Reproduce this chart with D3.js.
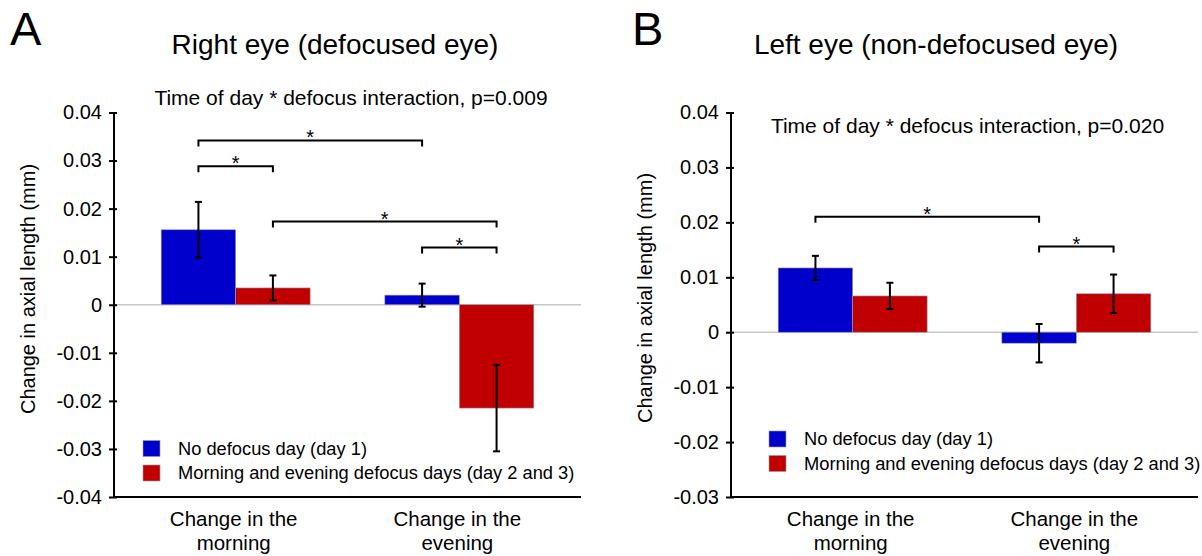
<!DOCTYPE html>
<html>
<head>
<meta charset="utf-8">
<script src="https://cdn.jsdelivr.net/npm/d3@7"></script>
<style>
  body { margin: 0; background: #fff; }
  svg text { font-family: "Liberation Sans", Arial, sans-serif; fill: #000; }
</style>
</head>
<body>
<svg id="chart" width="1202" height="556"></svg>
<script>
// categories and series
var categories = ["morning", "evening"];
var categoryLines = [["Change in the", "morning"], ["Change in the", "evening"]];
var seriesNames = ["No defocus day (day 1)", "Morning and evening defocus days (day 2 and 3)"];
var seriesColors = ["#0000cc", "#c00000"];

// panel A, right eye: [no defocus, defocus] per category
var rightMeans = [[0.0156, 0.0035], [0.0020, -0.0215]];
var rightErrors = [[0.0058, 0.0026], [0.0024, 0.0090]];
var rightTicks = [0.04, 0.03, 0.02, 0.01, 0, -0.01, -0.02, -0.03, -0.04];
// brackets: [category, series] -> [category, series] at a height in mm
var rightBrackets = [
  { from: [0, 0], to: [1, 0], y: 0.0342 },
  { from: [0, 0], to: [0, 1], y: 0.0288 },
  { from: [0, 1], to: [1, 1], y: 0.0173 },
  { from: [1, 0], to: [1, 1], y: 0.0119 }
];

// panel B, left eye
var leftMeans = [[0.0117, 0.0066], [-0.0020, 0.0070]];
var leftErrors = [[0.0022, 0.0024], [0.0035, 0.0035]];
var leftTicks = [0.04, 0.03, 0.02, 0.01, 0, -0.01, -0.02, -0.03];
var leftBrackets = [
  { from: [0, 0], to: [1, 0], y: 0.0210 },
  { from: [1, 0], to: [1, 1], y: 0.0156 }
];

var svg = d3.select("#chart");

function makePanel(p) {
  var g = svg.append("g");
  var top = 112.5, bottom = 497, width = 467;

  var y = d3.scaleLinear()
    .domain([d3.min(p.ticks), d3.max(p.ticks)])
    .range([bottom, top]);

  var x0 = d3.scaleBand()
    .domain(categories)
    .range([p.left, p.left + width])
    .paddingInner(0.334)
    .paddingOuter(0.211);

  var x1 = d3.scaleBand()
    .domain([0, 1])
    .range([0, x0.bandwidth()]);

  function cx(c, s) { return x0(categories[c]) + x1(s) + x1.bandwidth() / 2; }

  // rows of bars
  var rows = [];
  p.means.forEach(function(r, c) {
    r.forEach(function(v, s) { rows.push({ c: c, s: s, v: v, e: p.errors[c][s] }); });
  });

  // panel letter and titles
  g.append("text")
    .attr("x", p.letterX)
    .attr("y", 45)
    .attr("font-size", 47)
    .text(p.letter);

  g.append("text")
    .attr("x", p.titleX)
    .attr("y", 54)
    .attr("font-size", 28)
    .attr("text-anchor", "middle")
    .text(p.title);

  g.append("text")
    .attr("x", p.subX)
    .attr("y", p.subY)
    .attr("font-size", 21)
    .attr("text-anchor", "middle")
    .text(p.subtitle);

  // zero line
  g.append("line")
    .attr("x1", p.left)
    .attr("x2", p.left + width)
    .attr("y1", y(0))
    .attr("y2", y(0))
    .style("stroke", "#c8c8c8")
    .style("stroke-width", "1.5px");

  // bars
  g.selectAll("rect.bar")
    .data(rows)
    .enter()
    .append("rect")
    .attr("class", "bar")
    .attr("x", function(d) { return x0(categories[d.c]) + x1(d.s); })
    .attr("width", x1.bandwidth())
    .attr("y", function(d) { return y(Math.max(0, d.v)); })
    .attr("height", function(d) { return Math.abs(y(d.v) - y(0)); })
    .style("fill", function(d) { return seriesColors[d.s]; })
    .style("stroke", "#9a9aa8")
    .style("stroke-width", "0.6px");

  // error bars
  var err = g.selectAll("g.err")
    .data(rows)
    .enter()
    .append("g")
    .attr("class", "err")
    .style("stroke", "#000")
    .style("stroke-width", "2px");

  err.append("line")
    .attr("x1", function(d) { return cx(d.c, d.s); })
    .attr("x2", function(d) { return cx(d.c, d.s); })
    .attr("y1", function(d) { return y(d.v + d.e); })
    .attr("y2", function(d) { return y(d.v - d.e); });

  [1, -1].forEach(function(sign) {
    err.append("line")
      .attr("x1", function(d) { return cx(d.c, d.s) - 3.5; })
      .attr("x2", function(d) { return cx(d.c, d.s) + 3.5; })
      .attr("y1", function(d) { return y(d.v + sign * d.e); })
      .attr("y2", function(d) { return y(d.v + sign * d.e); });
  });

  // significance brackets
  g.selectAll("path.bracket")
    .data(p.brackets)
    .enter()
    .append("path")
    .attr("class", "bracket")
    .attr("d", function(d) {
      var xa = cx(d.from[0], d.from[1]), xb = cx(d.to[0], d.to[1]), yy = y(d.y);
      return "M" + xa + "," + (yy + 6) + "V" + yy + "H" + xb + "V" + (yy + 6);
    })
    .style("fill", "none")
    .style("stroke", "#000")
    .style("stroke-width", "2px");

  g.selectAll("text.star")
    .data(p.brackets)
    .enter()
    .append("text")
    .attr("class", "star")
    .attr("x", function(d) { return (cx(d.from[0], d.from[1]) + cx(d.to[0], d.to[1])) / 2; })
    .attr("y", function(d) { return y(d.y) + 4; })
    .attr("font-size", 20)
    .attr("text-anchor", "middle")
    .text("*");

  // y axis
  var yAxis = g.append("g")
    .attr("transform", "translate(" + p.left + ",0)")
    .call(d3.axisLeft(y)
      .tickValues(p.ticks)
      .tickSize(5)
      .tickPadding(7)
      .tickFormat(function(d) { return d === 0 ? "0" : d.toFixed(2); }));
  yAxis.select(".domain").remove();
  yAxis.selectAll(".tick line")
    .attr("x1", 3)
    .style("stroke", "#000")
    .style("stroke-width", "2px");
  yAxis.selectAll(".tick text")
    .attr("font-size", 20)
    .style("font-family", "Liberation Sans, Arial, sans-serif");

  g.append("line")
    .attr("x1", p.left)
    .attr("x2", p.left)
    .attr("y1", top)
    .attr("y2", bottom)
    .style("stroke", "#000")
    .style("stroke-width", "2px");

  // bottom line
  g.append("line")
    .attr("x1", p.left)
    .attr("x2", p.left + width)
    .attr("y1", bottom)
    .attr("y2", bottom)
    .style("stroke", "#000")
    .style("stroke-width", "2px");

  // y axis title
  g.append("text")
    .attr("transform", "translate(" + p.ylabX + "," + p.ylabY + ") rotate(-90)")
    .attr("font-size", 20)
    .attr("text-anchor", "middle")
    .text("Change in axial length (mm)");

  // category labels
  categories.forEach(function(c, i) {
    g.append("text")
      .attr("x", x0(c) + x0.bandwidth() / 2)
      .attr("y", 526)
      .attr("font-size", 20.5)
      .attr("text-anchor", "middle")
      .selectAll("tspan")
      .data(categoryLines[i])
      .enter()
      .append("tspan")
      .attr("x", x0(c) + x0.bandwidth() / 2 - 2)
      .attr("dy", function(d, j) { return j === 0 ? 0 : 23.5; })
      .text(function(d) { return d; });
  });

  // legend
  var leg = g.selectAll("g.legend")
    .data(seriesNames)
    .enter()
    .append("g")
    .attr("class", "legend")
    .attr("transform", function(d, i) { return "translate(" + p.legX + "," + (p.legY + i * 24.5) + ")"; });

  leg.append("rect")
    .attr("width", 17)
    .attr("height", 16)
    .style("fill", function(d, i) { return seriesColors[i]; })
    .style("stroke", "#9a9aa8")
    .style("stroke-width", "0.6px");

  leg.append("text")
    .attr("x", 35)
    .attr("y", 14)
    .attr("font-size", 18.3)
    .text(function(d) { return d; });
}

makePanel({
  letter: "A", letterX: 10, title: "Right eye (defocused eye)", titleX: 335,
  subtitle: "Time of day * defocus interaction, p=0.009", subX: 351, subY: 105,
  left: 114, ticks: rightTicks, means: rightMeans, errors: rightErrors, brackets: rightBrackets,
  ylabX: 35, ylabY: 289, legX: 143, legY: 440.5
});

makePanel({
  letter: "B", letterX: 632, title: "Left eye (non-defocused eye)", titleX: 936,
  subtitle: "Time of day * defocus interaction, p=0.020", subX: 967.5, subY: 133,
  left: 731, ticks: leftTicks, means: leftMeans, errors: leftErrors, brackets: leftBrackets,
  ylabX: 652, ylabY: 298, legX: 769, legY: 431
});
</script>
</body>
</html>
